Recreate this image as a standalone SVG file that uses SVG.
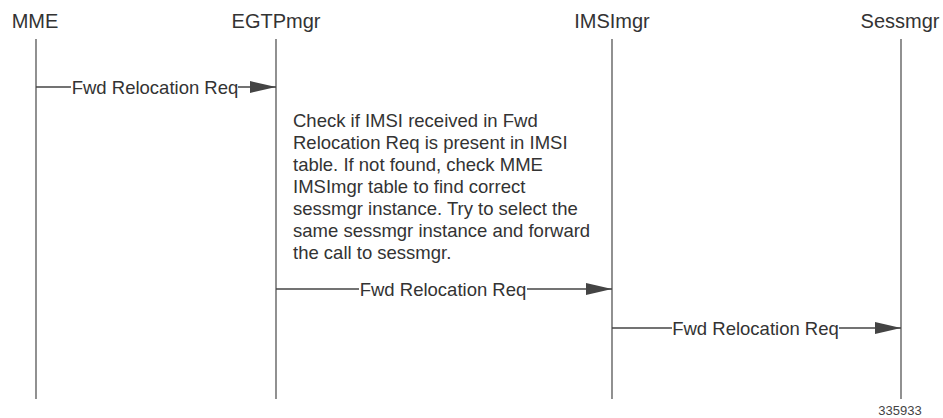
<svg xmlns="http://www.w3.org/2000/svg" width="943" height="418" viewBox="0 0 943 418">
<style>
.hdr{font-family:"Liberation Sans",Arial,sans-serif;font-size:20px;fill:#333;text-anchor:middle}
.lbl{font-family:"Liberation Sans",Arial,sans-serif;font-size:18.5px;fill:#333;text-anchor:middle}
.note{font-family:"Liberation Sans",Arial,sans-serif;font-size:18.5px;fill:#333}
.life{stroke:#555;stroke-width:1.3;fill:none}
.msg{stroke:#444;stroke-width:1.3;fill:none}
.num{font-family:"Liberation Sans",Arial,sans-serif;font-size:13px;fill:#444;text-anchor:middle}
</style>
<defs>
<marker id="ah" markerWidth="26" markerHeight="12" refX="26" refY="6" orient="auto" markerUnits="userSpaceOnUse">
<path d="M0,0 L26,6 L0,12 Z" fill="#444"/>
</marker>
</defs>
<rect width="943" height="418" fill="#fff"/>
<g id="MME">
<text class="hdr" x="35" y="28">MME</text>
<line class="life" x1="36" y1="39" x2="36" y2="399"/>
</g>
<g id="EGTPmgr">
<text class="hdr" x="276" y="28">EGTPmgr</text>
<line class="life" x1="276" y1="39" x2="276" y2="399"/>
</g>
<g id="IMSImgr">
<text class="hdr" x="612" y="28">IMSImgr</text>
<line class="life" x1="612" y1="39" x2="612" y2="399"/>
</g>
<g id="Sessmgr">
<text class="hdr" x="900" y="28">Sessmgr</text>
<line class="life" x1="901" y1="39" x2="901" y2="399"/>
</g>
<g id="note">
<text class="note" x="293" y="127">Check if IMSI received in Fwd</text>
<text class="note" x="293" y="149">Relocation Req is present in IMSI</text>
<text class="note" x="293" y="171">table. If not found, check MME</text>
<text class="note" x="293" y="193">IMSImgr table to find correct</text>
<text class="note" x="293" y="215">sessmgr instance. Try to select the</text>
<text class="note" x="293" y="237">same sessmgr instance and forward</text>
<text class="note" x="293" y="259">the call to sessmgr.</text>
</g>
<g id="connectors">
<line class="msg" x1="36" y1="87" x2="71" y2="87"/>
<line class="msg" x1="238" y1="87" x2="276" y2="87" marker-end="url(#ah)"/>
<text class="lbl" x="155" y="93.5">Fwd Relocation Req</text>
<line class="msg" x1="276" y1="289" x2="359" y2="289"/>
<line class="msg" x1="527" y1="289" x2="612" y2="289" marker-end="url(#ah)"/>
<text class="lbl" x="443" y="295.5">Fwd Relocation Req</text>
<line class="msg" x1="612" y1="328" x2="672" y2="328"/>
<line class="msg" x1="839" y1="328" x2="901" y2="328" marker-end="url(#ah)"/>
<text class="lbl" x="755.5" y="334.5">Fwd Relocation Req</text>
</g>
<text class="num" x="900" y="415">335933</text>
</svg>
